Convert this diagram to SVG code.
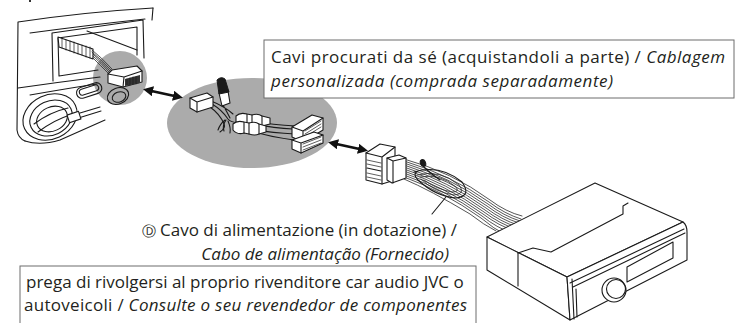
<svg xmlns="http://www.w3.org/2000/svg" width="740" height="323" viewBox="0 0 740 323">
  <defs>
    <style>
      .ln{fill:none;stroke:#1a1a1a;stroke-width:1.1;stroke-linejoin:round;stroke-linecap:round}
      .th{fill:none;stroke:#1a1a1a;stroke-width:0.7;stroke-linecap:round}
      .wr{fill:none;stroke:#2a2a2a;stroke-width:0.8;stroke-linecap:round}
      .sh{fill:#fff;stroke:#1a1a1a;stroke-width:1.1;stroke-linejoin:round}
      .dk{fill:#1a1a1a;stroke:#1a1a1a;stroke-width:1}
      .spot{fill:#ababab}
      .box{fill:#fff;stroke:#6d6d6d;stroke-width:1}
      .txt{font-family:"Open Sans","Noto Sans",sans-serif;font-size:17px;fill:#231f20}
      .it{font-style:italic}
      .dbl{fill:none;stroke:#111;stroke-width:2.8;marker-start:url(#head);marker-end:url(#head)}
    </style>
    <marker id="head" viewBox="0 0 10 10" refX="6" refY="5" markerWidth="3.6" markerHeight="3.6" orient="auto-start-reverse">
      <path d="M0,0 L10,5 L0,10 z" fill="#111"/>
    </marker>
  </defs>

  <rect width="740" height="323" fill="#fff"/>
  <path d="M29,0 L31,0 L31,2 L29,2 z" fill="#333"/>

  <!-- grey highlight spots -->
  <circle class="spot" cx="120" cy="78" r="27"/>
  <ellipse class="spot" cx="252" cy="123" rx="85" ry="45"/>

  <!-- dashboard with radio slot -->
  <g id="dashboard">
    <path class="ln" d="M18,22 Q85,12 153,8 M18,22 L17,130 Q18,138 25,141"/>
    <path class="ln" d="M30,33 Q90,25 145,19"/>
    <path class="ln" d="M153,8 L152,20"/>
    <!-- slot opening -->
    <path class="ln" d="M52,33 L143,20 L144,58 M52,33 L53,81"/>
    <path class="ln" d="M58,38 L137,27 L137,55 M58,38 L59,76 L98,70"/>
    <path class="ln" d="M87,31 L137,50"/>
    <!-- lower edges of the upper panel -->
    <path class="ln" d="M18,88 Q60,82 100,77"/>
    <path class="ln" d="M30,95 Q70,88 97,84"/>
    <!-- vents -->
    <ellipse class="ln" cx="50" cy="117" rx="28" ry="22" transform="rotate(-25 50 117)"/>
    <ellipse class="ln" cx="51" cy="118" rx="22" ry="17" transform="rotate(-25 51 118)"/>
    <ellipse class="ln" cx="52" cy="119" rx="16" ry="12" transform="rotate(-25 52 119)"/>
    <path class="ln" d="M34,124 Q50,112 68,108 M38,132 Q54,120 70,115"/>
    <rect class="ln" x="76" y="85" width="26" height="11" rx="5.5" transform="rotate(-18 89 90)"/>
    <rect class="ln" x="79" y="87" width="20" height="6" rx="3" transform="rotate(-18 89 90)"/>
    <path class="ln" d="M70,116 L100,107 M72,120 L101,111"/>
    <rect class="sh" x="68" y="113" width="12" height="8" transform="rotate(-18 74 117)"/>
    <ellipse class="ln" cx="118" cy="96" rx="11" ry="8" transform="rotate(-20 118 96)"/>
    <ellipse class="ln" cx="119" cy="97" rx="7" ry="5" transform="rotate(-20 119 97)"/>
    <path class="ln" d="M25,141 Q40,146 60,140 L105,120"/>
    <!-- ribbed harness going behind the slot -->
    <path class="sh" d="M58,37 L93,49 L93,59 L59,47 z"/>
    <path class="th" d="M62,38 L62,48 M66,40 L66,50 M70,41 L70,51 M74,42 L74,53 M78,44 L78,54 M82,45 L82,55 M86,46 L86,57 M90,47 L90,58"/>
    <path class="wr" d="M92,50 Q101,57 112,69 M92,52 Q101,59 111,70 M93,54 Q101,61 110,71 M93,56 Q101,63 109,72 M93,58 Q100,65 108,73"/>
    <!-- car-side connector -->
    <path class="sh" d="M108,74 L112,70 L137,66 L142,71 L142,82 L123,87 L108,83 z"/>
    <path class="ln" d="M108,74 L124,77 L142,71 M124,77 L123,87"/>
    <path d="M125,79 L140,75 L140,83 L125,86 z" fill="#333"/>
    <path class="th" d="M127,79 L127,85 M130,78 L130,85 M133,77 L133,84 M136,77 L136,84" stroke="#eee"/>
  </g>

  <!-- separately bought wiring -->
  <g id="custom-harness">
    <path class="ln" d="M212,104 Q222,110 228,119 Q232,124 245,122 M211,101 Q224,106 233,114 M210,107 Q220,114 224,124 Q226,128 220,132 M223,105 Q227,112 230,118"/>
    <path class="ln" d="M225,120 Q220,124 218,130 M228,121 Q231,128 230,133 M226,120 Q222,126 224,131"/>
    <path class="sh" d="M190,98 L207,93 L213,97 L213,107 L197,112 L190,108 z"/>
    <path class="ln" d="M190,98 L197,102 L213,97 M197,102 L197,112"/>
    <!-- antenna plug -->
    <path class="sh" d="M219,93 L228,91 L230,103 L222,106 z"/>
    <path class="dk" d="M217,80 Q221,76 225,79 L229,92 L219,94 z"/>
    <!-- RCA plugs -->
    <path class="ln" d="M240,119 Q262,124 296,126 M238,127 Q262,132 295,134 M244,122 Q270,128 293,129 M248,130 Q270,137 294,140"/>
    <path class="sh" d="M236,116 Q240,112 247,114 L252,115 Q258,113 262,116 L270,118 L270,124 L262,126 Q258,128 252,126 L247,124 Q240,126 236,122 z"/>
    <path class="ln" d="M247,114 L247,124 M252,115 L252,126 M262,116 L262,126"/>
    <path class="sh" d="M233,124 Q237,120 244,122 L249,123 Q255,121 259,124 L266,126 L266,132 L259,134 Q255,136 249,134 L244,133 Q237,135 233,130 z"/>
    <path class="ln" d="M244,122 L244,133 M249,123 L249,134 M259,124 L259,134"/>
    <!-- stacked connectors -->
    <path class="sh" d="M292,127 L312,115 L323,118 L323,130 L303,142 L292,137 z"/>
    <path class="ln" d="M292,127 L303,131 L323,118 M303,131 L303,142"/>
    <path class="th" d="M305,131 L321,121 M305,134 L321,124 M305,137 L321,127"/>
    <path class="sh" d="M292,140 L314,132 L323,135 L323,143 L301,153 L292,149 z"/>
    <path class="ln" d="M292,140 L301,143 L323,135 M301,143 L301,153"/>
    <path class="th" d="M303,144 L321,137 M303,147 L321,140 M303,150 L321,143"/>
  </g>

  <!-- supplied power cable -->
  <g id="power-cable">
    <path class="wr" d="M404,159 Q452,172 490,200 Q506,212 522,216"/>
    <path class="wr" d="M404,161 Q451,175 489,202 Q505,214 521,219"/>
    <path class="wr" d="M404,163 Q450,177 488,204 Q504,216 520,221"/>
    <path class="wr" d="M404,165 Q449,179 487,206 Q503,218 519,223"/>
    <path class="wr" d="M404,167 Q448,181 486,208 Q502,220 518,225"/>
    <path class="wr" d="M404,169 Q447,183 485,210 Q501,222 517,227"/>
    <path class="wr" d="M404,171 Q446,185 484,212 Q500,224 516,229"/>
    <path class="wr" d="M404,173 Q445,187 483,214 Q499,226 515,231"/>
    <path class="wr" d="M404,175 Q444,189 482,216 Q497,228 512,233"/>
    <path class="wr" d="M404,177 Q443,191 481,218 Q494,229 506,235"/>
    <path class="wr" d="M404,179 Q430,190 470,214 Q484,225 496,231"/>
    <!-- coiled loop -->
    <path class="ln" d="M414,172 Q440,164 462,182 Q472,196 456,198 Q435,196 418,180 Q412,174 418,171"/>
    <path class="wr" d="M417,175 Q440,169 459,185 Q466,194 454,195 Q434,192 421,179"/>
    <path class="wr" d="M420,177 Q440,173 456,187 Q460,192 452,192 Q436,189 424,180"/>
    <!-- ground lead -->
    <path class="ln" d="M424,167 Q430,173 440,180"/>
    <ellipse class="dk" cx="423" cy="163" rx="2.6" ry="3.6" transform="rotate(-20 423 163)"/>
  </g>

  <!-- supplied ISO connector -->
  <g id="iso-connector">
    <path class="sh" d="M366,153 L380,144 L395,147 L395,180 L382,184 L366,180 z"/>
    <path class="ln" d="M366,153 L382,157 L395,147 M382,157 L382,184"/>
    <path class="th" d="M367,160 L381,163 M367,164 L381,167 M367,173 L381,176 M367,177 L381,180"/>
    <path class="ln" d="M367,168 L381,171"/>
    <path class="sh" d="M387,158 L399,155 L406,158 L406,178 L392,183 L387,180 z"/>
    <path class="ln" d="M387,158 L393,161 L406,158 M393,161 L393,183"/>
  </g>

  <!-- car stereo head unit -->
  <g id="head-unit">
    <path class="sh" d="M487,237 L595,183 L683,222 L567,277 z"/>
    <path class="sh" d="M487,237 L567,277 L570,320 L487,270 z"/>
    <path class="sh" d="M567,277 L683,222 Q687,225 687,232 L687,260 L570,320 z"/>
    <path class="ln" d="M518,253 L533,248 L551,252 L623,214 L623,206 L628,203"/>
    <path class="ln" d="M518,253 L518,286"/>
    <path class="ln" d="M570,283 L684,229 M573,287 L685,233"/>
    <path class="ln" d="M572,279 L574,319 M576,289 L577,317"/>
    <path class="ln" d="M627,267 L673,242 L673,258 L627,282 z"/>
    <circle class="sh" cx="614" cy="290" r="12"/>
    <circle class="ln" cx="616" cy="289" r="9.5"/>
  </g>

  <!-- connectors and leader -->
  <g id="connectors">
    <line class="dbl" x1="147" y1="90" x2="179" y2="97"/>
    <line class="dbl" x1="332" y1="143" x2="364" y2="150"/>
    <line class="ln" x1="432" y1="214" x2="446" y2="197" stroke-width="0.9"/>
  </g>

  <!-- labels -->
  <g id="label-custom">
    <rect class="box" x="264" y="40" width="470" height="58"/>
    <text class="txt" x="271" y="63" textLength="454">Cavi procurati da sé (acquistandoli a parte) / <tspan class="it">Cablagem</tspan></text>
    <text class="txt it" x="271" y="87" textLength="342">personalizada (comprada separadamente)</text>
  </g>
  <g id="label-power">
    <text class="txt" x="457" y="236" text-anchor="end"><tspan font-family="DejaVu Sans" font-size="14">Ⓓ</tspan> Cavo di alimentazione (in dotazione) /</text>
    <text class="txt it" x="449" y="260" text-anchor="end">Cabo de alimentação (Fornecido)</text>
  </g>
  <g id="label-dealer">
    <rect class="box" x="20" y="266" width="456" height="70"/>
    <text class="txt" x="26" y="288">prega di rivolgersi al proprio rivenditore car audio JVC o</text>
    <text class="txt" x="24" y="311" textLength="443">autoveicoli / <tspan class="it">Consulte o seu revendedor de componentes</tspan></text>
  </g>
</svg>
